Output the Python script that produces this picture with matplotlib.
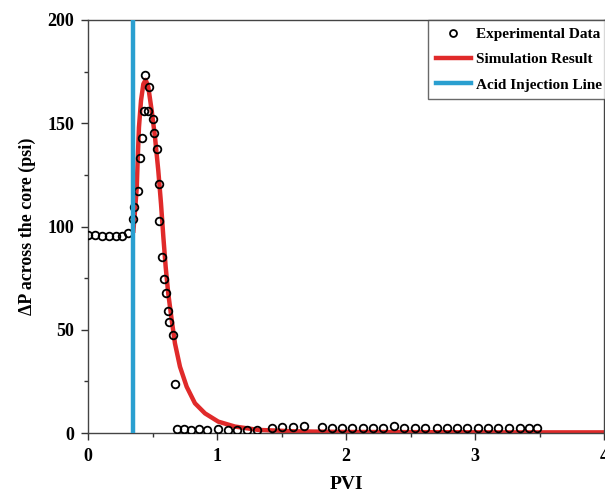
import matplotlib
matplotlib.use("Agg")
import matplotlib.pyplot as plt
from matplotlib.ticker import MultipleLocator
from matplotlib.lines import Line2D

# Experimental data (PVI, dP psi)
exp_pvi = [0.0, 0.055, 0.11, 0.16, 0.22, 0.26, 0.31, 0.349, 0.357, 0.388, 0.403, 0.419,
           0.434, 0.442, 0.473, 0.465, 0.504, 0.512, 0.535, 0.550, 0.550, 0.576, 0.592,
           0.605, 0.618, 0.630, 0.661, 0.674, 0.690, 0.747, 0.801, 0.860, 0.920, 1.010,
           1.083, 1.153, 1.230, 1.313, 1.426, 1.501, 1.587, 1.674, 1.812, 1.894, 1.967,
           2.049, 2.129, 2.207, 2.289, 2.372, 2.450, 2.535, 2.612, 2.703, 2.781, 2.858,
           2.936, 3.026, 3.103, 3.181, 3.264, 3.349, 3.421, 3.483]
exp_dp = [96.0, 95.8, 95.5, 95.3, 95.3, 95.6, 97.0, 103.6, 109.4, 117.2, 133.2, 142.9,
          155.9, 173.4, 167.6, 155.9, 152.1, 145.3, 137.5, 120.6, 102.7, 85.1, 74.6,
          67.9, 59.1, 53.9, 47.3, 23.6, 1.8, 1.8, 1.6, 1.8, 1.6, 1.9, 1.6, 1.5, 1.5,
          1.6, 2.4, 3.0, 3.1, 3.4, 3.1, 2.6, 2.5, 2.5, 2.3, 2.5, 2.6, 3.4, 2.6, 2.6,
          2.6, 2.4, 2.6, 2.3, 2.4, 2.5, 2.6, 2.5, 2.4, 2.2, 2.6, 2.4]

# Simulation result
sim_pvi = [0.352, 0.365, 0.378, 0.385, 0.395, 0.411, 0.429, 0.447, 0.467, 0.494, 0.519,
           0.545, 0.566, 0.584, 0.602, 0.622, 0.649, 0.674, 0.713, 0.765, 0.829, 0.907,
           1.010, 1.140, 1.320, 1.6, 2.0, 2.6, 3.2, 4.0]
sim_dp = [98.0, 108.0, 119.0, 132.0, 148.0, 161.0, 169.0, 171.0, 167.7, 156.0, 143.5,
          127.0, 111.0, 95.0, 80.5, 67.6, 54.7, 43.4, 32.1, 22.4, 14.4, 9.5,
          5.5, 3.1, 1.5, 0.8, 0.5, 0.4, 0.3, 0.3]

# Acid injection line
acid_pvi = [0.351, 0.351]
acid_dp = [0, 200]

plt.rcParams['font.family'] = ['Liberation Serif', 'DejaVu Serif']
plt.rcParams['font.weight'] = 'bold'

fig = plt.figure(figsize=(6.05, 4.97), dpi=100)
ax = fig.add_axes([88/605, 1-433/497, (604-88)/605, (433-20)/497])

ax.plot(exp_pvi, exp_dp, linestyle='none', marker='o', markersize=5.5,
        markerfacecolor='none', markeredgecolor='black', markeredgewidth=1.3, zorder=3)
ax.plot(sim_pvi, sim_dp, color='#e02a2a', linewidth=3.2, zorder=2,
        solid_joinstyle='round')
ax.plot(acid_pvi, acid_dp, color='#2a9fd0', linewidth=3.2, zorder=4)

ax.set_xlim(0, 4)
ax.set_ylim(0, 200)
ax.xaxis.set_major_locator(MultipleLocator(1))
ax.xaxis.set_minor_locator(MultipleLocator(0.5))
ax.yaxis.set_major_locator(MultipleLocator(50))
ax.yaxis.set_minor_locator(MultipleLocator(25))
ax.tick_params(which='major', direction='out', length=5, width=1, labelsize=13, color='#333333')
ax.tick_params(axis='x', which='major', pad=6)
ax.tick_params(axis='y', which='major', pad=5)
ax.tick_params(which='minor', direction='out', length=3, width=1, color='#333333')
for lbl in ax.get_xticklabels() + ax.get_yticklabels():
    lbl.set_fontweight('bold')
for s in ax.spines.values():
    s.set_color('#444444')
    s.set_linewidth(1.0)

ax.set_xlabel('PVI', fontsize=14, fontweight='bold', labelpad=8)
ax.set_ylabel('ΔP across the core (psi)', fontsize=13, fontweight='bold', labelpad=8)

handles = [
    Line2D([], [], linestyle='none', marker='o', markersize=5, markerfacecolor='none',
           markeredgecolor='black', markeredgewidth=1.3),
    Line2D([], [], color='#e02a2a', linewidth=3.2),
    Line2D([], [], color='#2a9fd0', linewidth=3.2),
]
labels = ['Experimental Data', 'Simulation Result', 'Acid Injection Line']
leg = fig.legend(handles, labels, loc='upper left',
                 bbox_to_anchor=(428/605, 1-20/497), frameon=True, fancybox=False,
                 prop={'family': 'Liberation Serif', 'weight': 'bold', 'size': 11},
                 borderpad=0.5, handlelength=2.3, handletextpad=0.35, labelspacing=0.75,
                 borderaxespad=0)
leg.get_frame().set_edgecolor('#444444')
leg.get_frame().set_linewidth(1.0)

fig.savefig('out.png', dpi=100)
